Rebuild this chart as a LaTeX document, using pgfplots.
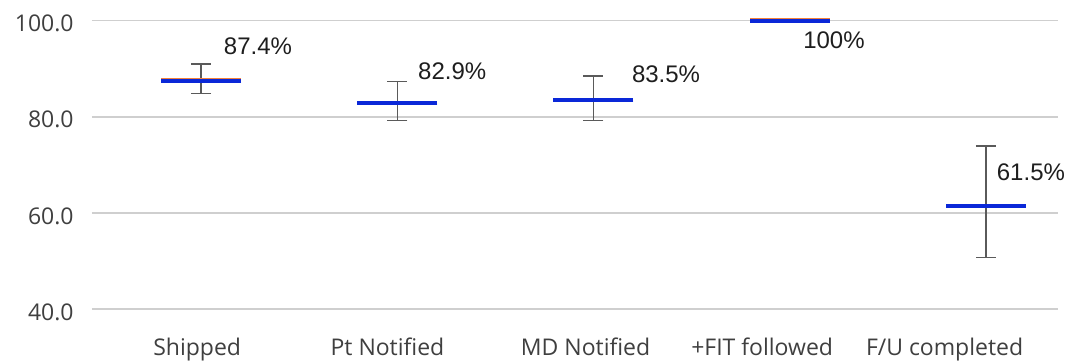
\documentclass[border=0pt]{standalone}
\usepackage{pgfplots}
\pgfplotsset{compat=1.18}
\usepackage{fontspec}
\setmainfont{Open Sans}
\newfontfamily\labfont{Liberation Sans}
\usetikzlibrary{calc}
\definecolor{gridc}{HTML}{CFCFCF}
\definecolor{errc}{HTML}{5A5A5A}
\definecolor{mblue}{HTML}{0A28D8}
\definecolor{morange}{HTML}{F2803A}
\definecolor{tickc}{HTML}{3F3F3F}
\definecolor{labc}{HTML}{1E1E1E}
\begin{document}
\begin{tikzpicture}
\begin{axis}[
  scale only axis, width=483pt, height=144.2pt,
  xmin=-0.556, xmax=4.368, ymin=40, ymax=100,
  axis line style={draw=none},
  major tick length=0pt,
  ytick={40,60,80,100},
  ymajorgrids, grid style={gridc, line width=0.75pt},
  xtick={-0.02,0.95,1.96,2.86,3.79},
  xticklabels={Shipped, Pt Notified, MD Notified, +FIT followed, F/U completed},
  /pgf/number format/.cd, fixed, fixed zerofill, precision=1, assume math mode=true,
  /pgfplots/.cd,
  tick label style={font=\fontsize{11.5}{13}\selectfont, text=tickc},
  xticklabel style={anchor=base, yshift=-23pt},
  yticklabel style={anchor=east, inner sep=0pt, xshift=-9pt, yshift=-1.5pt},
  clip=false,
]
% orange series (behind)
\addplot[only marks, mark=-, mark size=20pt, mark options={morange, line width=1.6pt}]
  coordinates {(0,87.7) (1,83.05) (2,83.65) (3,100.3) (4,61.5)};
% blue series
\addplot[only marks, mark=-, mark size=20pt, mark options={mblue, line width=2pt}]
  coordinates {(0,87.4) (1,82.9) (2,83.5) (3,100) (4,61.5)};
% error bars
\addplot[draw=none, mark=none,
  error bars/.cd, y dir=both, y explicit,
  error bar style={draw=errc, line width=0.7pt},
  error mark options={rotate=90, mark size=5pt, draw=errc, line width=0.7pt}]
  coordinates {
    (0,87.4) += (0,3.6) -= (0,2.5)
    (1,82.9) += (0,4.4) -= (0,3.7)
    (2,83.5) += (0,5.0) -= (0,4.3)
    (4,61.5) += (0,12.4) -= (0,10.8)
  };
\node[font=\labfont\fontsize{12}{14}\selectfont, text=labc] at (axis cs:0.29,94.59) {87.4\%};
\node[font=\labfont\fontsize{12}{14}\selectfont, text=labc] at (axis cs:1.28,89.47) {82.9\%};
\node[font=\labfont\fontsize{12}{14}\selectfont, text=labc] at (axis cs:2.37,88.76) {83.5\%};
\node[font=\labfont\fontsize{12}{14}\selectfont, text=labc] at (axis cs:3.226,95.98) {100\%};
\node[font=\labfont\fontsize{12}{14}\selectfont, text=labc] at (axis cs:4.23,68.41) {61.5\%};
\end{axis}
\pgfresetboundingbox
\useasboundingbox ($(current axis.south west)+(-46pt,-25.5pt)$) rectangle ($(current axis.north east)+(5pt,10.35pt)$);
\end{tikzpicture}
\end{document}
